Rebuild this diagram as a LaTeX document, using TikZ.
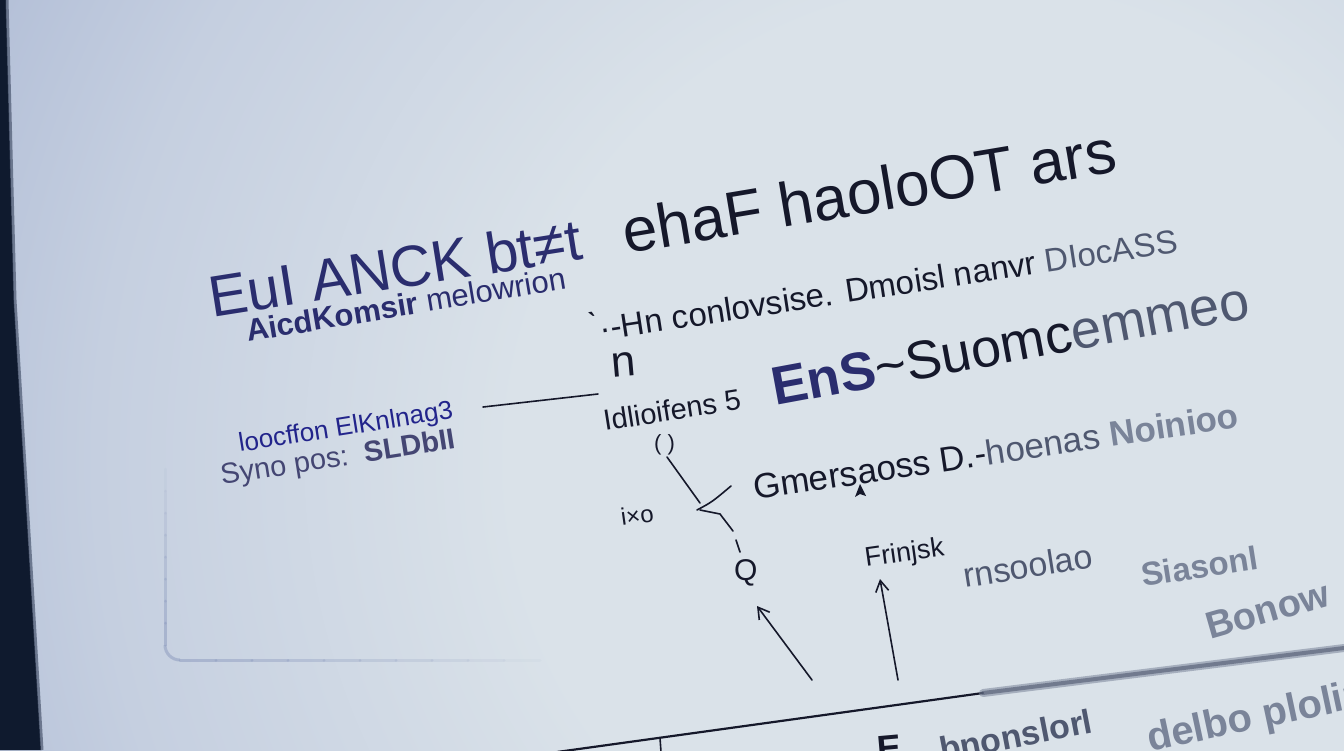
\documentclass[tikz,border=0pt]{standalone}
\usepackage{fontspec}
\setmainfont{Liberation Sans}
\usetikzlibrary{arrows.meta,calc}
\definecolor{cA}{HTML}{DAE2E9}
\definecolor{cB}{HTML}{C5CFE0}
\definecolor{cC}{HTML}{A2B0CF}
\definecolor{edge}{HTML}{0F1A2E}
\definecolor{navy}{HTML}{2A2D6E}
\definecolor{ink}{HTML}{15182A}
\definecolor{soft}{HTML}{4F5870}
\definecolor{faint}{HTML}{7A8499}
\definecolor{panel}{HTML}{8F9DC0}
\pgfdeclareradialshading{screen}{\pgfpoint{0bp}{0bp}}{color(0bp)=(cA); color(9bp)=(cA); color(17bp)=(cB); color(25bp)=(cC); color(50bp)=(cC)}
\tikzset{
  txt/.style={inner sep=0pt, anchor=base west, text=ink},
  sz/.style={font=\fontsize{#1}{#1}\selectfont},
  wire/.style={draw=ink, line width=1.6pt, line cap=round},
  arr/.style={wire, -{Straight Barb[length=11pt,width=13pt,line width=1.6pt]}},
}
\begin{document}
\begin{tikzpicture}[x=1pt,y=-1pt]
\useasboundingbox (0,0) rectangle (1344,750);
\clip (0,0) rectangle (1344,750);
% background
\fill[cC] (0,0) rectangle (1344,750);
\shade[shading=screen] (980,460) circle (1300);
% panel shadow (fading edges)
\foreach \i in {0,...,9}{
  \draw[panel, line width=3pt, line cap=round, opacity={0.55*(1-\i/10)}]
    ({180+\i*36},660) -- ({216+\i*36},660);
}
\foreach \i in {0,...,7}{
  \draw[panel, line width=3pt, line cap=round, opacity={0.55*(1-\i/8)}]
    (165,{645-\i*22}) -- (165,{623-\i*22});
}
\draw[panel, line width=3pt, opacity=0.55] (165,645) arc[start angle=180, end angle=90, x radius=15pt, y radius=-15pt];
% left dark edge
\fill[edge] (0,0) -- (6,0) -- (14,300) -- (41,750) -- (0,750) -- cycle;
\draw[edge!60!cC, line width=3pt, opacity=0.7] (7,0) -- (15,300) -- (42,750);

% title
\node[txt, sz=58, text=navy, rotate=9] (t1) at (212,318) {EuI ANCK bt≠t};
\node[txt, sz=62, rotate=9.5] (t2) at (626,254) {ehaF haoloOT ars};
\node[txt, sz=31, text=navy, rotate=9.5] (s1) at (248,342) {\textbf{AicdKomsir} melowrion};
\node[txt, sz=33, rotate=8.7] (s2) at (592,342) {\`{}·-Hn conlovsise. Dmoisl nanvr \textcolor{soft}{DIocASS}};
\node[txt, sz=44, rotate=5] (n1) at (612,378) {n};
\node[txt, sz=54, rotate=10.5] (big) at (775,406) {\textcolor{navy}{\textbf{EnS}}\textasciitilde Suomc\textcolor{soft}{emmeo}};
\node[txt, sz=29, rotate=9] (idl) at (605,431) {Idlioifens 5};
\node[txt, sz=22] (par) at (654,450) {( )};
\node[txt, sz=26, text=navy!80!blue, rotate=9] (loc) at (240,452) {loocffon ElKnlnag3};
\node[txt, sz=29, text=navy!70!gray, rotate=9] (syn) at (222,485) {Syno pos:\ \ \textbf{SLDbII}};
\node[txt, sz=35, rotate=8.5] (gm) at (755,500) {Gmersaoss D.-\textcolor{soft}{hoenas} \textcolor{faint}{\textbf{Noinioo}}};
\node[txt, sz=24, rotate=8] (ixo) at (622,526) {i×o};
\node[txt, sz=30] (q) at (734,580) {Q};
\node[txt, sz=27, rotate=8] (fr) at (866,567) {Frinjsk};
\node[txt, sz=34, text=soft, rotate=9] (rn) at (965,588) {rnsoolao};
\node[txt, sz=33, text=faint, rotate=9] (sia) at (1143,587) {\textbf{Siasonl}};
\node[txt, sz=38, text=faint, rotate=16] (bon) at (1210,640) {\textbf{Bonow}};
\node[txt, sz=34, text=soft, rotate=11] (bn) at (942,762) {\textbf{bnonslorl}};
\node[txt, sz=40, text=faint, rotate=12] (del) at (1150,752) {\textbf{delbo plolin}};
\node[txt, sz=36, rotate=5] (eb) at (878,762) {\textbf{E}};

% connectors
\coordinate (h1) at (483,407);
\coordinate (h2) at (598,394);
\draw[wire] (h1) -- (h2);
\coordinate (c1) at (667,457);
\coordinate (c2) at (700,503);
\coordinate (c3) at (731,486);
\coordinate (c4) at (720,514);
\coordinate (c5) at (733,531);
\draw[wire] (c1) -- (c2);
\draw[wire] (c2) ++(-3,7) .. controls (712,502) .. (c3);
\draw[wire] (c2) ++(0,7) -- (c4) -- (c5);
\coordinate (d1) at (736,540);
\coordinate (d2) at (740,552);
\draw[wire] (d1) -- (d2);
\coordinate (a1) at (812,680);
\coordinate (a2) at (757,606);
\draw[arr] (a1) -- (a2);
\coordinate (b1) at (898,680);
\coordinate (b2) at (880,579);
\draw[arr] (b1) -- (b2);
\coordinate (tri) at (860,484);
\fill[ink] (tri) -- ++(-5,13) -- ++(5,-3) -- ++(6,2) -- cycle;
% bottom line
\coordinate (l1) at (557,752);
\coordinate (l2) at (983,693);
\coordinate (l3) at (1344,648);
\draw[wire, line width=2.2pt] (l1) -- (l2);
\draw[faint, line width=8pt, opacity=0.55, line cap=round] (l2) -- (l3);
\draw[soft, line width=4pt, opacity=0.6, line cap=round] (l2) -- (l3);
\coordinate (k1) at (660,738);
\coordinate (k2) at (661,752);
\draw[wire] (k1) -- (k2);
\end{tikzpicture}
\end{document}
